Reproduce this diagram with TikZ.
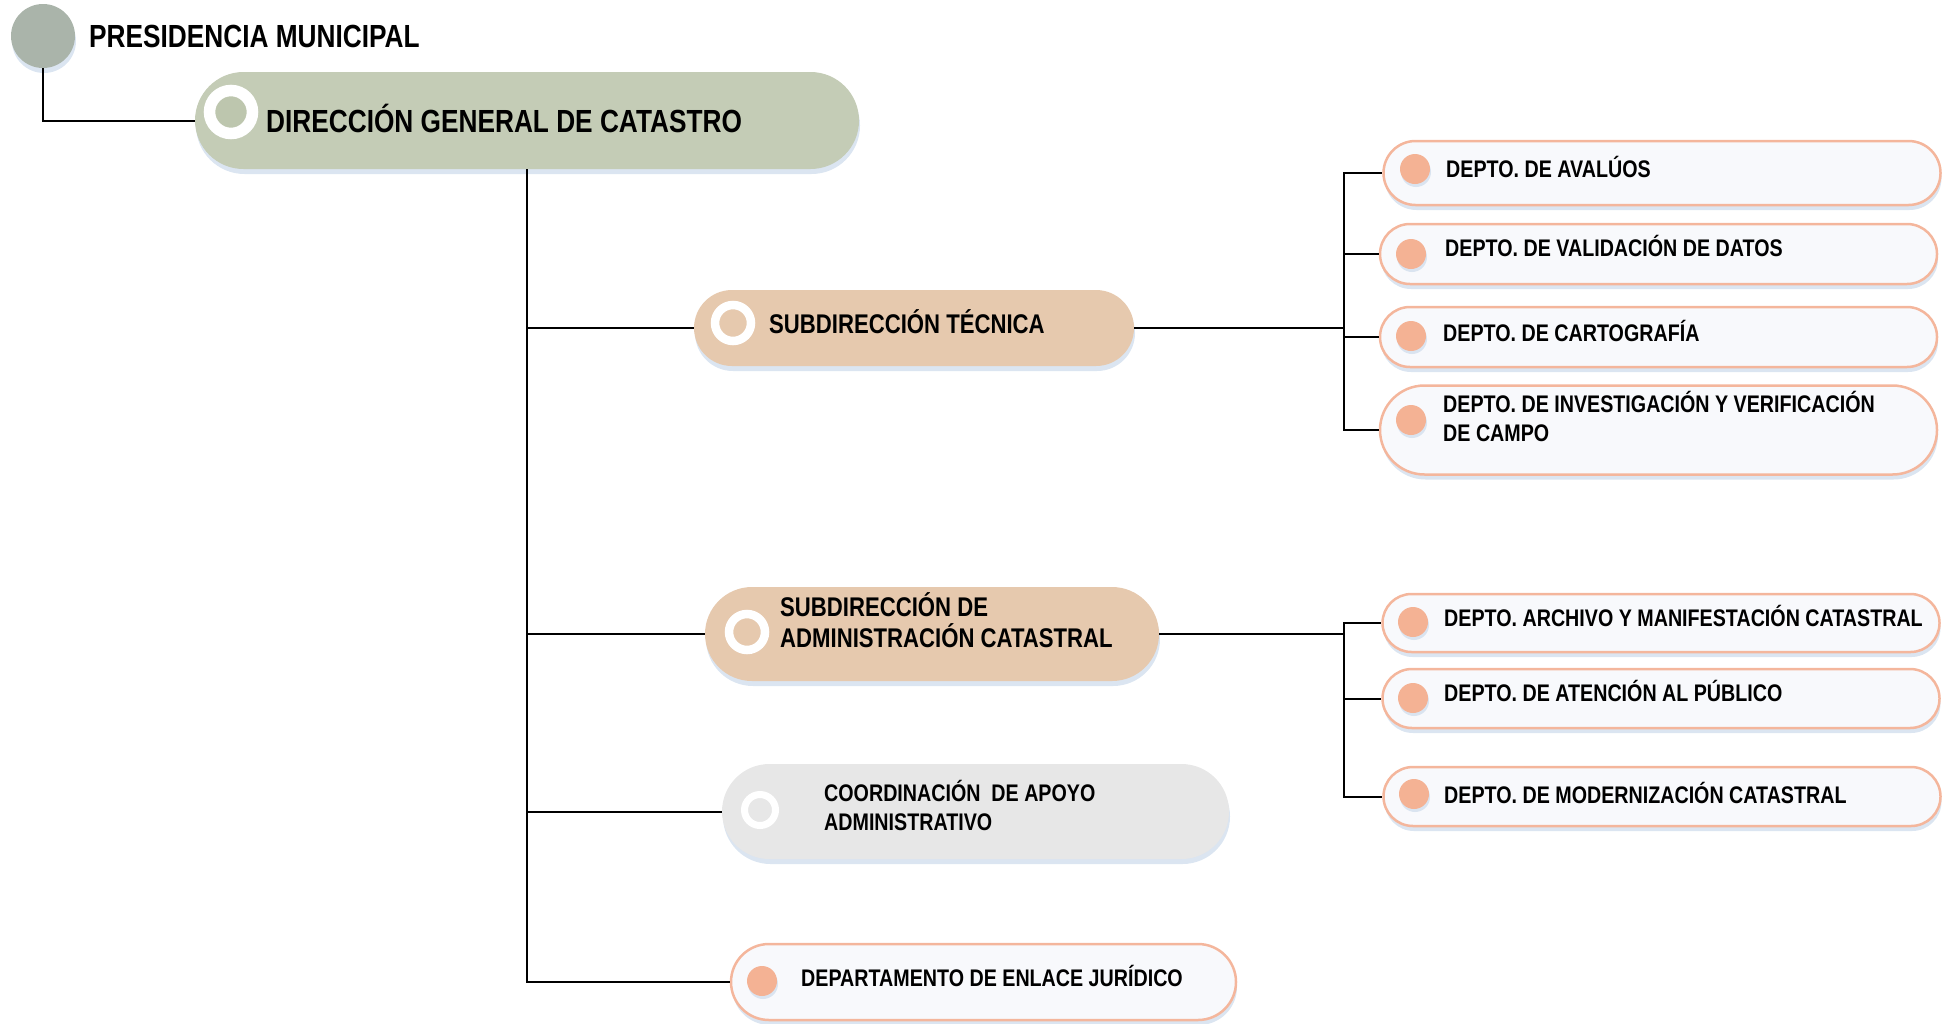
\documentclass[tikz,border=0pt]{standalone}
\usepackage{fontspec}
\setmainfont{Liberation Sans}[FakeStretch=0.82]
\usetikzlibrary{shapes.misc,shadows}

\definecolor{presgray}{HTML}{AAB4AA}
\definecolor{dirgreen}{HTML}{C4CCB6}
\definecolor{dirdot}{HTML}{BDC6AE}
\definecolor{subtan}{HTML}{E6C9AE}
\definecolor{coordgray}{HTML}{E7E7E7}
\definecolor{deptfill}{HTML}{F8F9FC}
\definecolor{deptline}{HTML}{F4B69C}
\definecolor{deptdot}{HTML}{F4B294}
\definecolor{glow}{HTML}{D7E2EF}

\begin{document}
\begin{tikzpicture}[x=1pt, y=-1pt,
  glowshadow/.style={drop shadow={shadow xshift=1pt, shadow yshift=-5pt, fill=glow, opacity=0.9}},
  pill/.style={rounded rectangle, fill=#1, inner sep=0pt, glowshadow},
  deptbox/.style={rounded rectangle, draw=deptline, line width=2.5pt, fill=deptfill,
    inner sep=0pt, minimum width=557pt, glowshadow},
  ring/.style={circle, draw=white, fill=#1, inner sep=0pt,
    drop shadow={shadow xshift=1pt, shadow yshift=-3pt, fill=glow, opacity=0.9}},
  bullet/.style={circle, fill=deptdot, minimum size=30pt, inner sep=0pt,
    drop shadow={shadow xshift=1pt, shadow yshift=-3pt, fill=glow, opacity=0.9}},
  bigtxt/.style={anchor=base west, inner sep=0pt, font=\bfseries\fontsize{32}{38}\selectfont},
  subtxt/.style={anchor=base west, inner sep=0pt, align=left, font=\bfseries\fontsize{27}{31}\selectfont},
  depttxt/.style={anchor=base west, inner sep=0pt, align=left, font=\bfseries\fontsize{24}{29}\selectfont},
  link/.style={draw=black, line width=2pt},
  ]

  \useasboundingbox (0,0) rectangle (1950,1023);

  \newcommand\XHUB{1344}

  % head
  \node[circle, fill=presgray, minimum size=64pt, inner sep=0pt, glowshadow] (pres) at (43,36) {};
  \node[bigtxt] (prestxt) at (89,47.5) {PRESIDENCIA MUNICIPAL};

  \node[pill=dirgreen, minimum width=664pt, minimum height=97pt] (dir) at (527,120.5) {};
  \node[ring=dirdot, minimum size=43pt, line width=11.5pt] (dirring) at (231,112) {};
  \node[bigtxt] (dirtxt) at (266,132) {DIRECCIÓN GENERAL DE CATASTRO};

  % second level
  \node[pill=subtan, minimum width=440pt, minimum height=76pt] (subtec) at (914,328) {};
  \node[ring=subtan, minimum size=36pt, line width=8.5pt] (subtecring) at (733,323) {};
  \node[subtxt] (subtectxt) at (769,333) {SUBDIRECCIÓN TÉCNICA};

  \node[pill=subtan, minimum width=454pt, minimum height=94pt] (subadm) at (932,634) {};
  \node[ring=subtan, minimum size=36pt, line width=8.5pt] (subadmring) at (747,632) {};
  \node[subtxt] (subadmtxt) at (780,647) {SUBDIRECCIÓN DE\\ADMINISTRACIÓN CATASTRAL};

  \node[pill=coordgray, minimum width=507pt, minimum height=95pt] (coord) at (975.5,811.5) {};
  \node[ring=coordgray, minimum size=31pt, line width=7pt] (coordring) at (760,810) {};
  \node[depttxt] (coordtxt) at (824,830.5) {COORDINACIÓN~ DE APOYO\\ADMINISTRATIVO};

  \node[deptbox, minimum width=505pt, minimum height=76pt] (enlace) at (983.5,982) {};
  \node[bullet] (enlacedot) at (762,981) {};
  \node[depttxt] (enlacetxt) at (801,986) {DEPARTAMENTO DE ENLACE JURÍDICO};

  % departments of the technical branch
  \node[deptbox, minimum height=64pt] (aval) at (1662,173) {};
  \node[bullet] (avaldot) at (1415,169) {};
  \node[depttxt] (avaltxt) at (1446,177.5) {DEPTO. DE AVALÚOS};

  \node[deptbox, minimum height=60pt] (valid) at (1658.5,254) {};
  \node[bullet] (validdot) at (1411,254) {};
  \node[depttxt] (validtxt) at (1445,256) {DEPTO. DE VALIDACIÓN DE DATOS};

  \node[deptbox, minimum height=60pt] (carto) at (1658.5,337) {};
  \node[bullet] (cartodot) at (1411,336) {};
  \node[depttxt] (cartotxt) at (1443,341.5) {DEPTO. DE CARTOGRAFÍA};

  \node[deptbox, minimum height=89pt] (invest) at (1658.5,430) {};
  \node[bullet] (investdot) at (1411,420) {};
  \node[depttxt] (investtxt) at (1443,441.5) {DEPTO. DE INVESTIGACIÓN Y VERIFICACIÓN\\DE CAMPO};

  % departments of the administrative branch
  \node[deptbox, minimum height=58pt] (arch) at (1661,623) {};
  \node[bullet] (archdot) at (1413,622) {};
  \node[depttxt] (archtxt) at (1444,626.5) {DEPTO. ARCHIVO Y MANIFESTACIÓN CATASTRAL};

  \node[deptbox, minimum height=59pt] (atenc) at (1661,698.5) {};
  \node[bullet] (atencdot) at (1413,698) {};
  \node[depttxt] (atenctxt) at (1444,701.5) {DEPTO. DE ATENCIÓN AL PÚBLICO};

  \node[deptbox, minimum height=59pt] (modern) at (1662,796.5) {};
  \node[bullet] (moderndot) at (1414,794) {};
  \node[depttxt] (moderntxt) at (1444,803.5) {DEPTO. DE MODERNIZACIÓN CATASTRAL};

  % connectors
  \draw[link] (pres.south) |- (dir.west);
  \draw[link] (dir.south) |- (subtec.west);
  \draw[link] (dir.south) |- (subadm.west);
  \draw[link] (dir.south) |- (coord.west);
  \draw[link] (dir.south) |- (enlace.west);

  \coordinate (hubA) at (\XHUB,328);
  \coordinate (hubB) at (\XHUB,634);
  \draw[link] (subtec.east) -- (hubA);
  \draw[link] (hubA) |- (aval.west);
  \draw[link] (hubA) |- (valid.west);
  \draw[link] (hubA) |- (carto.west);
  \draw[link] (hubA) |- (invest.west);

  \draw[link] (subadm.east) -- (hubB);
  \draw[link] (hubB) |- (arch.west);
  \draw[link] (hubB) |- (atenc.west);
  \draw[link] (hubB) |- (modern.west);

\end{tikzpicture}
\end{document}
